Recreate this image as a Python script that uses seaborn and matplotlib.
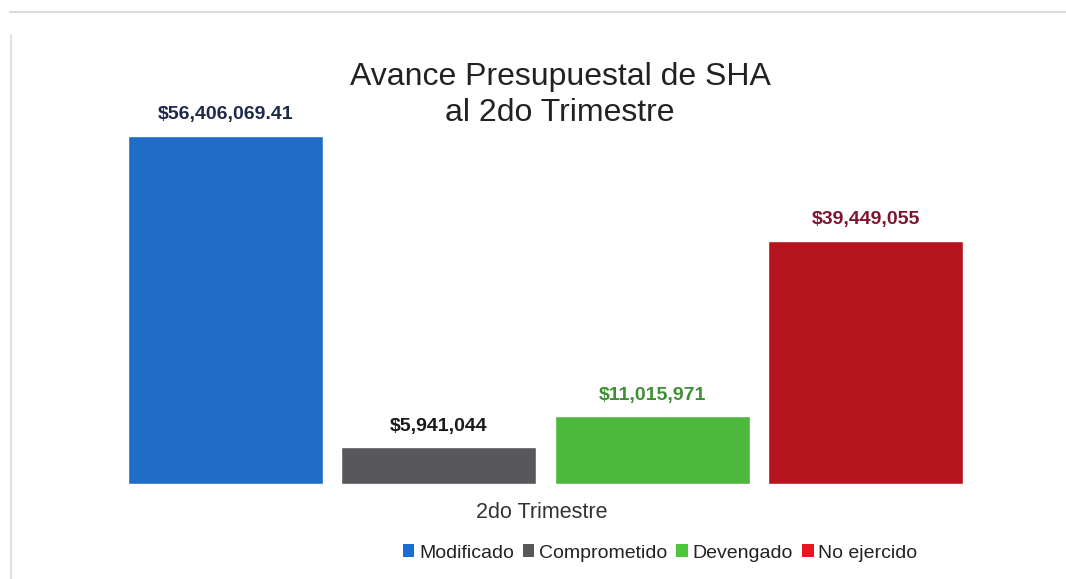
import matplotlib
matplotlib.use("Agg")
import matplotlib.pyplot as plt
import seaborn as sns
import pandas as pd
from matplotlib.lines import Line2D
from matplotlib.patches import Patch

periodo = ["2do Trimestre"] * 4
series = ["Modificado", "Comprometido", "Devengado", "No ejercido"]
valores = [56406069.41, 5941044, 11015971, 39449055]
etiquetas = ["$56,406,069.41", "$5,941,044", "$11,015,971", "$39,449,055"]
colores = ["#1f6dc6", "#58585c", "#4cb93c", "#b3141d"]
colores_etiqueta = ["#1c2a4a", "#1a1a1a", "#3d8f33", "#7d1530"]
colores_leyenda = ["#1a6fd6", "#58585c", "#4cc63c", "#e8141f"]
titulo = "Avance Presupuestal de SHA\nal 2do Trimestre"

df = pd.DataFrame({"periodo": periodo, "serie": series, "valor": valores})

sns.set_theme(style="white")
plt.rcParams["font.family"] = ["Liberation Sans", "DejaVu Sans"]

W, H = 1066, 579
fig = plt.figure(figsize=(W / 100, H / 100), dpi=100)
fig.patch.set_facecolor("white")

L_px, R_px = 60, 1031
top_px, base_px = 80, 484
ax = fig.add_axes([L_px / W, 1 - base_px / H, (R_px - L_px) / W, (base_px - top_px) / H])

sns.barplot(data=df, x="periodo", y="valor", hue="serie", hue_order=series,
            palette=colores, width=0.8, gap=0.087, saturation=1, ax=ax,
            legend=False, errorbar=None)

half = (R_px - L_px) / 2 / 1067.5
ax.set_xlim(-half, half)
ax.set_ylim(0, valores[0] * (base_px - top_px) / (base_px - 136))
for s in ax.spines.values():
    s.set_visible(False)
ax.set_yticks([])
ax.set_xticks([])
ax.set_ylabel("")
ax.set_xlabel("")

for bar, lab, c in zip(ax.patches, etiquetas, colores_etiqueta):
    ax.annotate(lab, (bar.get_x() + bar.get_width() / 2, bar.get_height()),
                xytext=(0, 9), textcoords="offset points", ha="center", va="bottom",
                fontsize=14, fontweight="bold", color=c, annotation_clip=False)

fig.text(560 / W, 1 - 95 / H, titulo, ha="center", va="center", fontsize=23,
         color="#222222", linespacing=1.3, fontweight="medium")
fig.text(542 / W, 1 - 513 / H, "2do Trimestre", ha="center", va="center",
         fontsize=15.5, color="#333333")

handles = [Patch(facecolor=c, edgecolor="none") for c in colores_leyenda]
fig.legend(handles, series, loc="center", bbox_to_anchor=(660 / W, 1 - 553 / H),
           ncol=4, frameon=False, fontsize=14, handlelength=0.6, handleheight=0.6,
           handletextpad=0.25, columnspacing=0.45, labelcolor="#222222")

fig.add_artist(Line2D([10 / W, 1.0], [1 - 12 / H, 1 - 12 / H], color="#dcdcdc", lw=1.5))
fig.add_artist(Line2D([11 / W, 11 / W], [0, 1 - 35 / H], color="#e2e2e2", lw=1.5))

fig.savefig("out.png", dpi=100, facecolor="white")
